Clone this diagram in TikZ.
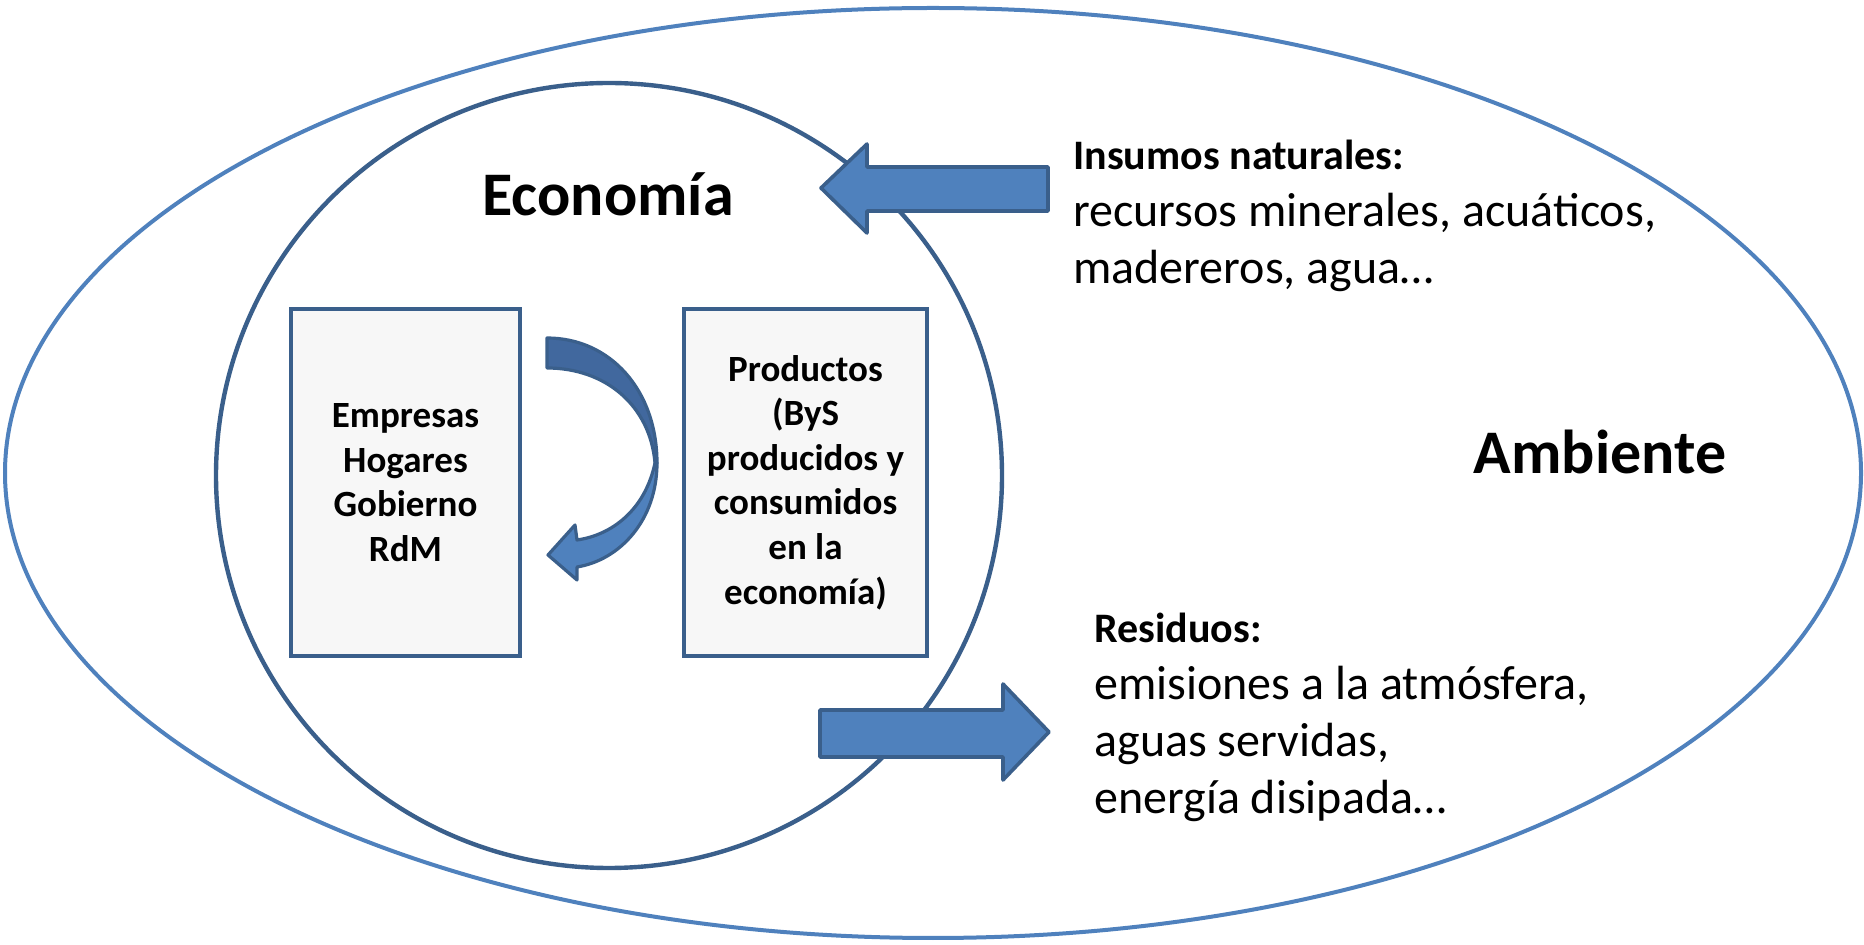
\documentclass[tikz,border=0pt]{standalone}
\usepackage{fontspec}
\setmainfont{Carlito}
\definecolor{outerblue}{HTML}{4F81BD}
\definecolor{edgeblue}{HTML}{3A5F8B}
\definecolor{topblue}{HTML}{41689E}
\definecolor{boxfill}{HTML}{F7F7F7}
\newcommand{\headline}[1]{{\fontsize{21}{28.5}\selectfont\bfseries #1}}
\tikzset{
  title/.style={font=\fontsize{31}{37}\selectfont\bfseries, inner sep=0pt},
  agentbox/.style={draw=edgeblue, fill=boxfill, line width=2pt, align=center,
    font=\fontsize{18.5}{22.3}\selectfont\bfseries, inner sep=0pt},
  regiontext/.style={align=left, anchor=west, inner sep=0pt,
    font=\fontsize{24}{28.5}\selectfont},
  blockarrow/.style={fill=outerblue, draw=edgeblue, line width=1.8pt, line join=round},
}
\begin{document}
\begin{tikzpicture}[x=0.5pt,y=-0.5pt]
\useasboundingbox (0,0) rectangle (1864,945);
% Ambiente
\draw[outerblue, line width=2pt] (933,473) ellipse [x radius=928, y radius=465];
% Economia
\draw[edgeblue, line width=2.2pt] (609,475.5) ellipse [x radius=393, y radius=392.5];

\node[title] (eco) at (608,194) {Economía};
\node[title] (amb) at (1600,452) {Ambiente};

\node[agentbox, minimum width=114.5pt, minimum height=173.5pt] (agents) at (405.5,482.5)
  {Empresas\\Hogares\\Gobierno\\RdM};
\node[agentbox, minimum width=121.5pt, minimum height=173.5pt] (prod) at (805.5,482.5)
  {Productos\\(ByS\\producidos y\\consumidos\\en la\\economía)};

% curved arrow
\path[fill=topblue, draw=edgeblue, line width=1.6pt, line join=round]
  (547,338) .. controls (610,338) and (657,390) .. (657,463)
  -- (655,463) .. controls (650,405) and (605,368) .. (547,368) -- cycle;
\path[fill=outerblue, draw=edgeblue, line width=1.6pt, line join=round]
  (657,463) .. controls (657,520) and (620,560) .. (577,567)
  -- (577,580) -- (548,555) -- (575,525) -- (577,540)
  .. controls (612,535) and (645,510) .. (655,463) -- cycle;

% block arrows
\path[blockarrow] (821,188) -- (867,144) -- (867,167) -- (1048,167) -- (1048,211)
  -- (867,211) -- (867,233) -- cycle;
\path[blockarrow] (820,710) -- (1003,710) -- (1003,684) -- (1049,732) -- (1003,780)
  -- (1003,757) -- (820,757) -- cycle;

\node[regiontext] (ins) at (1073,216)
  {\headline{Insumos naturales:}\\recursos minerales, acuáticos,\\madereros, agua…};
\node[regiontext] (res) at (1094,717)
  {\headline{Residuos:}\\emisiones a la atmósfera,\\aguas servidas,\\energía disipada…};
\end{tikzpicture}
\end{document}
